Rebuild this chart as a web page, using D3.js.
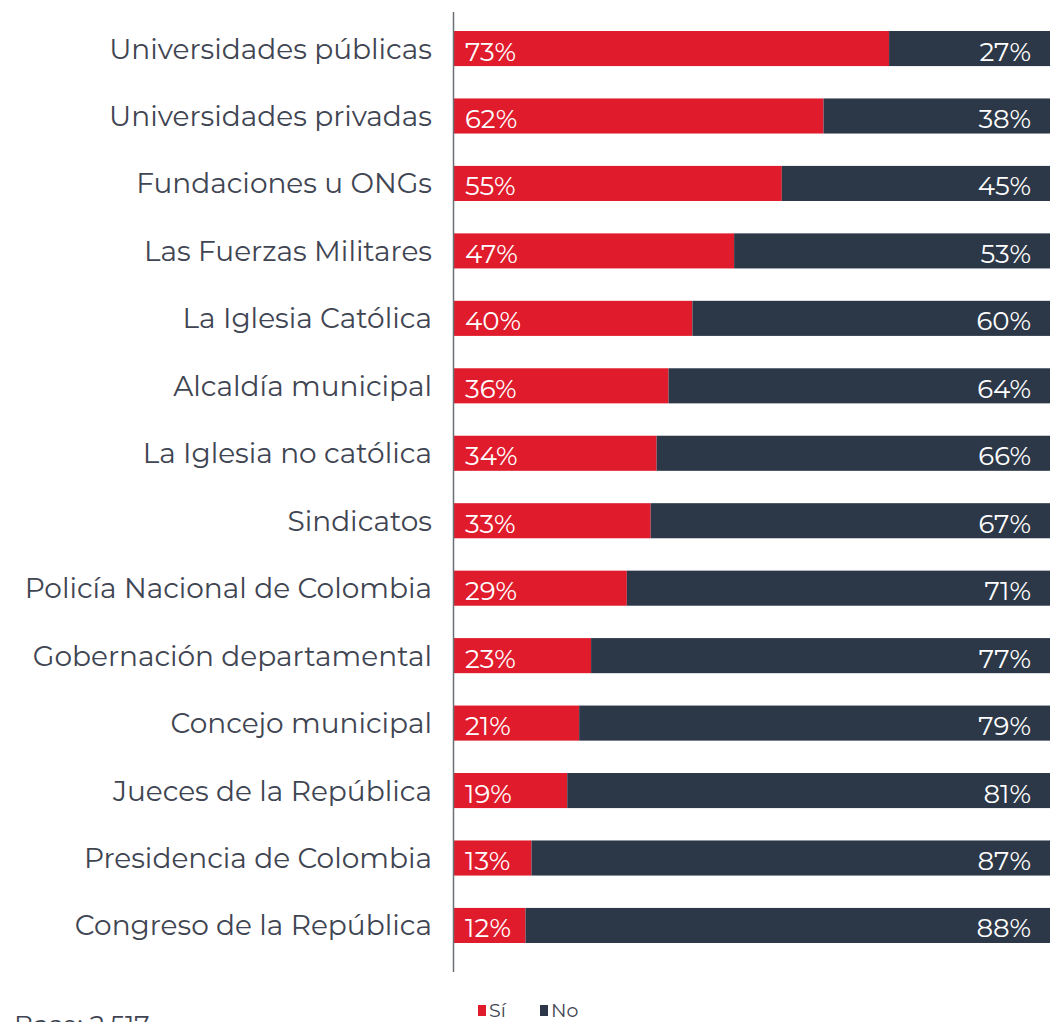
<!DOCTYPE html>
<html>
<head>
<meta charset="utf-8">
<script src="https://cdn.jsdelivr.net/npm/d3@7"></script>
<style>
  html, body { margin: 0; padding: 0; background: #ffffff; }
  svg { display: block; }
</style>
</head>
<body>
<svg id="chart" width="1053" height="1022"></svg>
<script>
const categories = [
  "Universidades públicas",
  "Universidades privadas",
  "Fundaciones u ONGs",
  "Las Fuerzas Militares",
  "La Iglesia Católica",
  "Alcaldía municipal",
  "La Iglesia no católica",
  "Sindicatos",
  "Policía Nacional de Colombia",
  "Gobernación departamental",
  "Concejo municipal",
  "Jueces de la República",
  "Presidencia de Colombia",
  "Congreso de la República"
];
const siValues = [73, 62, 55, 47, 40, 36, 34, 33, 29, 23, 21, 19, 13, 12];
const noValues = [27, 38, 45, 53, 60, 64, 66, 67, 71, 77, 79, 81, 87, 88];
const seriesNames = ["Sí", "No"];
const baseText = "Base: 2.517";

const colors = { "Sí": "#e01b2c", "No": "#2c3848" };
const fontFam = "Montserrat, 'Noto Sans', 'Open Sans', sans-serif";

const svg = d3.select("#chart");

const x = d3.scaleLinear().domain([0, 100]).range([454, 1050]);
const y = d3.scaleBand().domain(categories).range([31, 943]).paddingInner(0.48).paddingOuter(0);

const data = categories.map((c, i) => ({ cat: c, si: siValues[i], no: noValues[i] }));

// Category labels
svg.append("g").selectAll("text")
  .data(data).join("text")
  .attr("x", 432)
  .attr("y", d => y(d.cat) + y.bandwidth() / 2 + 10)
  .attr("text-anchor", "end")
  .attr("font-family", fontFam)
  .attr("font-size", 28)
  .attr("fill", "#3f4552")
  .text(d => d.cat);

// Bars Sí
svg.append("g").selectAll("rect")
  .data(data).join("rect")
  .attr("x", x(0))
  .attr("y", d => y(d.cat))
  .attr("width", d => x(d.si) - x(0))
  .attr("height", y.bandwidth())
  .attr("fill", colors["Sí"]);

// Bars No
svg.append("g").selectAll("rect")
  .data(data).join("rect")
  .attr("x", d => x(d.si))
  .attr("y", d => y(d.cat))
  .attr("width", d => x(d.si + d.no) - x(d.si))
  .attr("height", y.bandwidth())
  .attr("fill", colors["No"]);

// Value labels
svg.append("g").selectAll("text")
  .data(data).join("text")
  .attr("x", x(0) + 11)
  .attr("y", d => y(d.cat) + y.bandwidth() / 2 + 12)
  .attr("font-family", fontFam)
  .attr("font-size", 26)
  .attr("fill", "#ffffff")
  .text(d => d.si + "%");

svg.append("g").selectAll("text")
  .data(data).join("text")
  .attr("x", 1031)
  .attr("y", d => y(d.cat) + y.bandwidth() / 2 + 12)
  .attr("text-anchor", "end")
  .attr("font-family", fontFam)
  .attr("font-size", 26)
  .attr("fill", "#ffffff")
  .text(d => d.no + "%");

// Axis line
svg.append("line")
  .attr("x1", 453.5).attr("x2", 453.5)
  .attr("y1", 12).attr("y2", 972)
  .attr("stroke", "#6b6f76")
  .attr("stroke-width", 1.5);

// Legend
const legend = svg.append("g").attr("transform", "translate(478,1004)");
const lx = [0, 62];
seriesNames.forEach((s, i) => {
  const g = legend.append("g").attr("transform", `translate(${lx[i]},0)`);
  g.append("rect").attr("x", 0).attr("y", 1).attr("width", 8).attr("height", 11).attr("fill", colors[s]);
  g.append("text").attr("x", 11).attr("y", 13)
    .attr("font-family", fontFam).attr("font-size", 19).attr("fill", "#3f4552").text(s);
});

// Base text (cut off at bottom, as in the reference)
svg.append("text")
  .attr("x", 14).attr("y", 1034)
  .attr("font-family", fontFam)
  .attr("font-size", 26)
  .attr("fill", "#3f4552")
  .text(baseText);
</script>
</body>
</html>
